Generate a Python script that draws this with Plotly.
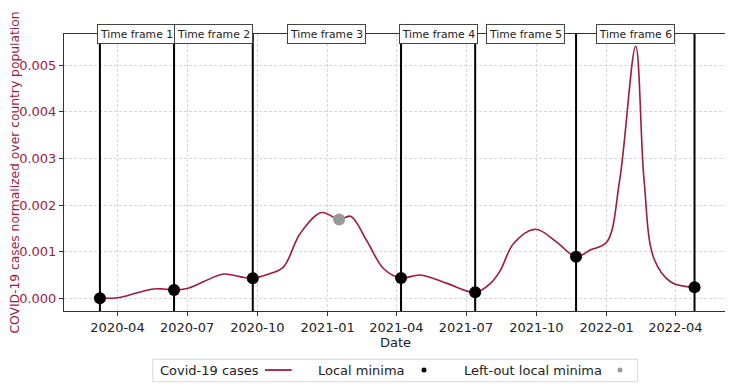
import plotly.graph_objects as go
import pandas as pd

# ---- data ----
curve_dates = [
    "2020-03-01", "2020-03-09", "2020-04-01", "2020-04-27", "2020-05-18", "2020-05-31",
    "2020-06-14", "2020-07-01", "2020-07-23", "2020-08-18", "2020-09-09", "2020-09-25",
    "2020-10-14", "2020-11-04", "2020-11-26", "2020-12-24", "2021-01-16", "2021-01-31",
    "2021-02-21", "2021-03-15", "2021-04-07", "2021-05-02", "2021-06-06", "2021-07-13",
    "2021-08-02", "2021-08-15", "2021-09-01", "2021-09-30", "2021-10-28", "2021-11-22",
    "2021-12-11", "2022-01-01", "2022-01-18", "2022-02-08", "2022-02-19", "2022-03-04",
    "2022-03-26", "2022-04-26",
]
curve_values = [
    0.0, 0.0, 0.00001, 0.00012, 0.00020, 0.00020,
    0.00018, 0.00021, 0.00036, 0.00052, 0.00046, 0.00043,
    0.00051, 0.00067, 0.00139, 0.00184, 0.00169, 0.00176,
    0.00124, 0.00064, 0.000435, 0.00050, 0.00032, 0.000128,
    0.00032, 0.00060, 0.00117, 0.00148, 0.00120, 0.00089,
    0.00104, 0.00120, 0.00253, 0.00541, 0.00253, 0.00085,
    0.00035, 0.000236,
]

minima_dates = ["2020-03-09", "2020-06-14", "2020-09-25", "2021-04-07",
                "2021-07-13", "2021-11-22", "2022-04-26"]
minima_values = [0.0, 0.00018, 0.00043, 0.000435, 0.000128, 0.00089, 0.000236]

leftout_dates = ["2021-01-16"]
leftout_values = [0.00169]

frame_labels = ["Time frame 1", "Time frame 2", "Time frame 3",
                "Time frame 4", "Time frame 5", "Time frame 6"]

x_range = ["2020-01-22", "2022-06-07 12:00"]
y_range = [-0.000273, 0.005672]

CRIMSON = "#9E1B3F"
FONT = "DejaVu Sans"

fig = go.Figure()

# vertical lines at minima
for d in minima_dates:
    fig.add_shape(type="line", xref="x", yref="paper", x0=d, x1=d, y0=0, y1=1,
                  line=dict(color="black", width=2), layer="above")

fig.add_trace(go.Scatter(x=curve_dates, y=curve_values, mode="lines",
                         line=dict(color=CRIMSON, width=1.6, shape="spline", smoothing=1.0),
                         name="Covid-19 cases", showlegend=False))
fig.add_trace(go.Scatter(x=minima_dates, y=minima_values, mode="markers",
                         marker=dict(color="black", size=12),
                         name="Local minima", showlegend=False))
fig.add_trace(go.Scatter(x=leftout_dates, y=leftout_values, mode="markers",
                         marker=dict(color="#999999", size=12),
                         name="Left-out local minima", showlegend=False))

# time frame labels centred between consecutive minima
md = pd.to_datetime(minima_dates)
for i, lab in enumerate(frame_labels):
    mid = md[i] + (md[i + 1] - md[i]) / 2
    fig.add_annotation(x=mid, y=1, xref="x", yref="paper", text=lab, showarrow=False,
                       yanchor="middle", xanchor="center", width=73, height=14,
                       font=dict(family=FONT, size=10.8, color="#222"),
                       bgcolor="white", bordercolor="#444", borderwidth=1, borderpad=2)

# custom legend (text before symbol, like the reference)
fig.add_shape(type="rect", xref="paper", yref="paper", x0=0.1338, x1=0.8653,
              y0=-0.2552, y1=-0.1744, line=dict(color="#d8d8d8", width=1),
              fillcolor="white", layer="above")
leg_y = -0.2130
for txt, xpos in [("Covid-19 cases", 0.1422), ("Local minima", 0.3801),
                  ("Left-out local minima", 0.5998)]:
    fig.add_annotation(x=xpos, y=leg_y, xref="paper", yref="paper", text=txt,
                       showarrow=False, xanchor="left", yanchor="middle",
                       font=dict(family=FONT, size=13, color="#222"))
fig.add_shape(type="line", xref="paper", yref="paper", x0=0.3032, x1=0.3434,
              y0=leg_y, y1=leg_y, line=dict(color=CRIMSON, width=1.8))
fig.add_shape(type="circle", xref="paper", yref="paper", xsizemode="pixel", ysizemode="pixel",
              xanchor=0.5430, yanchor=leg_y, x0=-2.5, x1=2.5, y0=-2.5, y1=2.5,
              fillcolor="black", line=dict(width=0))
fig.add_shape(type="circle", xref="paper", yref="paper", xsizemode="pixel", ysizemode="pixel",
              xanchor=0.8386, yanchor=leg_y, x0=-2.5, x1=2.5, y0=-2.5, y1=2.5,
              fillcolor="#999999", line=dict(width=0))

# the page body has an 8px margin, so the figure is sized/margined to compensate
fig.update_layout(
    width=725, height=380,
    margin=dict(l=56, r=6, t=26, b=77),
    paper_bgcolor="white", plot_bgcolor="white",
    font=dict(family=FONT, size=13, color="#222"),
    showlegend=False,
)
fig.update_xaxes(
    type="date", range=x_range, tickformat="%Y-%m", dtick="M3", tick0="2020-01-01",
    automargin=False,
    showgrid=True, gridcolor="#d6d6d6", gridwidth=0.8, griddash="3px,2px",
    showline=True, linecolor="#333", linewidth=1, mirror=True,
    ticks="outside", ticklen=4, tickcolor="#333",
    tickfont=dict(family=FONT, size=13, color="#222"),
    title=dict(text="Date", font=dict(family=FONT, size=13, color="#222"), standoff=0),
    zeroline=False,
)
fig.update_yaxes(
    range=y_range, tickformat=".3f", dtick=0.001, tick0=0,
    automargin=False,
    showgrid=True, gridcolor="#d6d6d6", gridwidth=0.8, griddash="3px,2px",
    showline=True, linecolor="#333", linewidth=1, mirror=True,
    ticks="outside", ticklen=4, tickcolor="#333",
    tickfont=dict(family=FONT, size=13, color=CRIMSON),
    title=dict(text="COVID-19 cases normalized over country population",
               font=dict(family=FONT, size=12.3, color=CRIMSON), standoff=1),
    zeroline=False,
)

fig.write_html("out.html")
